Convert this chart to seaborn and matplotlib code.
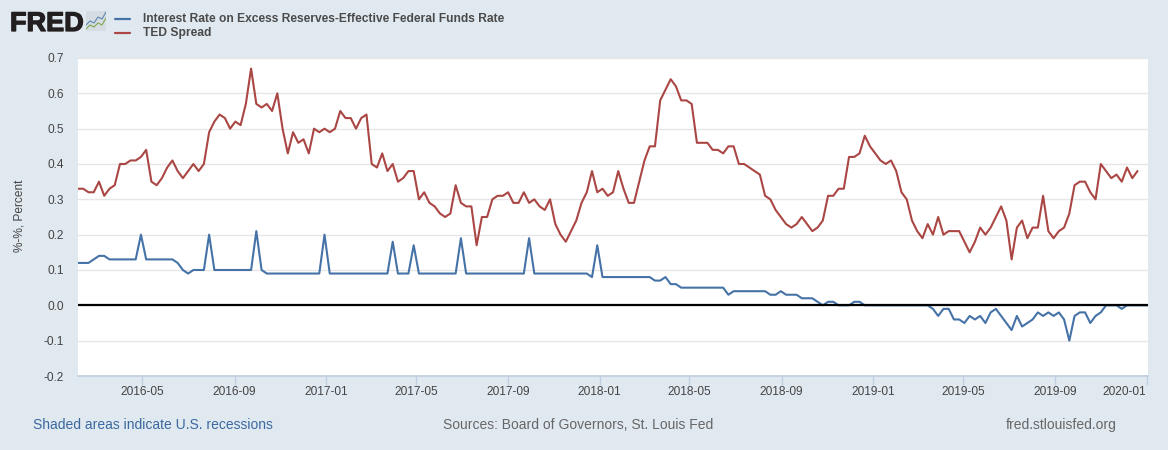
import pandas as pd
import numpy as np
import matplotlib
matplotlib.use('Agg')
import matplotlib.pyplot as plt
import matplotlib.dates as mdates
import matplotlib.patheffects as pe
import seaborn as sns

# weekly values
ioer_effr = [
    .12, .12, .12, .13, .14, .14, .13, .13, .13, .13,
    .13, .13, .20, .13, .13, .13, .13, .13, .13, .12,
    .10, .09, .10, .10, .10, .20, .10, .10, .10, .10,
    .10, .10, .10, .10, .21, .10, .09, .09, .09, .09,
    .09, .09, .09, .09, .09, .09, .09, .20, .09, .09,
    .09, .09, .09, .09, .09, .09, .09, .09, .09, .09,
    .18, .09, .09, .09, .17, .09, .09, .09, .09, .09,
    .09, .09, .09, .19, .09, .09, .09, .09, .09, .09,
    .09, .09, .09, .09, .09, .09, .19, .09, .09, .09,
    .09, .09, .09, .09, .09, .09, .09, .09, .08, .17,
    .08, .08, .08, .08, .08, .08, .08, .08, .08, .08,
    .07, .07, .08, .06, .06, .05, .05, .05, .05, .05,
    .05, .05, .05, .05, .03, .04, .04, .04, .04, .04,
    .04, .04, .03, .03, .04, .03, .03, .03, .02, .02,
    .02, .01, .00, .01, .01, .00, .00, .00, .01, .01,
    .00, .00, .00, .00, .00, .00, .00, .00, .00, .00,
    .00, .00, .00, -.01, -.03, -.01, -.01, -.04, -.04, -.05,
    -.03, -.04, -.03, -.05, -.02, -.01, -.03, -.05, -.07, -.03,
    -.06, -.05, -.04, -.02, -.03, -.02, -.03, -.02, -.04, -.10,
    -.03, -.02, -.02, -.05, -.03, -.02, .00, .00, .00, -.01,
    .00, .00, .00, .00, .00,
]
ted_spread = [
    .33, .33, .32, .32, .35, .31, .33, .34, .40, .40,
    .41, .41, .42, .44, .35, .34, .36, .39, .41, .38,
    .36, .38, .40, .38, .40, .49, .52, .54, .53, .50,
    .52, .51, .57, .67, .57, .56, .57, .55, .60, .50,
    .43, .49, .46, .47, .43, .50, .49, .50, .49, .50,
    .55, .53, .53, .50, .53, .54, .40, .39, .43, .38,
    .40, .35, .36, .38, .38, .30, .32, .29, .28, .26,
    .25, .26, .34, .29, .28, .28, .17, .25, .25, .30,
    .31, .31, .32, .29, .29, .32, .29, .30, .28, .27,
    .30, .23, .20, .18, .21, .24, .29, .32, .38, .32,
    .33, .31, .32, .38, .33, .29, .29, .35, .41, .45,
    .45, .58, .61, .64, .62, .58, .58, .57, .46, .46,
    .46, .44, .44, .43, .45, .45, .40, .40, .39, .38,
    .37, .31, .30, .27, .25, .23, .22, .23, .25, .23,
    .21, .22, .24, .31, .31, .33, .33, .42, .42, .43,
    .48, .45, .43, .41, .40, .41, .38, .32, .30, .24,
    .21, .19, .23, .20, .25, .20, .21, .21, .21, .18,
    .15, .18, .22, .20, .22, .25, .28, .24, .13, .22,
    .24, .19, .22, .22, .31, .21, .19, .21, .22, .26,
    .34, .35, .35, .32, .30, .40, .38, .36, .37, .35,
    .39, .36, .38,
]
series_names = ['Interest Rate on Excess Reserves-Effective Federal Funds Rate', 'TED Spread']
y_ticks = [-.2, -.1, 0, .1, .2, .3, .4, .5, .6, .7]
x_ticks = ['2016-05', '2016-09', '2017-01', '2017-05', '2017-09', '2018-01',
           '2018-05', '2018-09', '2019-01', '2019-05', '2019-09', '2020-01']

weeks = pd.date_range('2016-02-05', periods=len(ioer_effr), freq='W-FRI')
df = pd.concat([
    pd.DataFrame({'date': weeks, 'value': ioer_effr, 'series': series_names[0]}),
    pd.DataFrame({'date': weeks[:len(ted_spread)], 'value': ted_spread, 'series': series_names[1]}),
])

sns.set_theme(style='white')
plt.rcParams['font.family'] = ['Liberation Sans', 'DejaVu Sans']

W, H = 1168, 450
bg = '#e1e9f0'
fig = plt.figure(figsize=(W / 100, H / 100), dpi=100, facecolor=bg)
ax = fig.add_axes([78 / W, 1 - 376 / H, (1148 - 78) / W, (376 - 58) / H], facecolor='white')

sns.lineplot(data=df, x='date', y='value', hue='series', hue_order=series_names,
             palette=['#4572a7', '#aa4643'], linewidth=1.5, ax=ax, legend=False)
ax.axhline(0, color='black', lw=1.6, zorder=5)

ax.set_xlim(weeks[0], weeks[-1])
ax.set_ylim(-.2, .7)
ax.set_xlabel('')
ax.set_ylabel('%-%, Percent', fontsize=8.6, color='#444444')
ax.yaxis.set_label_coords(-52 / (1148 - 78), 0.505)
ax.set_yticks(y_ticks)
ax.set_yticklabels(['%.1f' % v for v in y_ticks])
ax.grid(axis='y', color='#e6e6e6', lw=1)
ax.set_axisbelow(True)
for s in ['top', 'left', 'right']:
    ax.spines[s].set_visible(False)
ax.spines['bottom'].set_color('#c0d0e0')

ax.set_xticks([pd.Timestamp(t + '-01') for t in x_ticks])
ax.xaxis.set_major_formatter(mdates.DateFormatter('%Y-%m'))
ax.tick_params(axis='x', length=6.5, width=1, color='#c0d0e0', labelcolor='#444444', labelsize=8.6, pad=0.5, bottom=True)
ax.tick_params(axis='y', length=0, labelcolor='#444444', labelsize=8.6, pad=10)
ax.get_xticklabels()[-1].set_ha('right')

# legend
for name, col, y in zip(series_names, ['#4572a7', '#aa4643'], [19, 33]):
    fig.add_artist(plt.Line2D([115 / W, 130 / W], [1 - y / H, 1 - y / H], color=col, lw=1.6))
    fig.text(143 / W, 1 - y / H, name, fontsize=8.65, fontweight='bold', color='#4a4a4a', va='center')

# logo
logo = fig.text(10 / W, 1 - 31 / H, 'FRED', fontsize=19.5, fontweight='bold', color='#231f20', va='baseline')
logo.set_path_effects([pe.withStroke(linewidth=.9, foreground='#231f20')])
icon = fig.add_axes([86 / W, 1 - 31 / H, 20 / W, 20 / H], facecolor='#d5dde3')
icon.set_xlim(0, 10)
icon.set_ylim(0, 10)
icon.set_xticks([])
icon.set_yticks([])
for s in icon.spines.values():
    s.set_visible(False)
icon.plot([0, 2, 4, 6, 8, 10], [3, 5, 4, 7, 6, 9.5], color='#5b88b0', lw=.8)
icon.plot([0, 2, 4, 6, 8, 10], [1, 3, 2, 4, 3, 6.5], color='#7fa650', lw=.8)

# footer
fig.text(33 / W, 1 - 425 / H, 'Shaded areas indicate U.S. recessions', fontsize=10, color='#3a689f', va='center')
fig.text(443 / W, 1 - 425 / H, 'Sources: Board of Governors, St. Louis Fed', fontsize=10, color='#666666', va='center')
fig.text(1117 / W, 1 - 425 / H, 'fred.stlouisfed.org', fontsize=10, color='#666666', va='center', ha='right')

fig.savefig('out.png', dpi=100, facecolor=bg)
